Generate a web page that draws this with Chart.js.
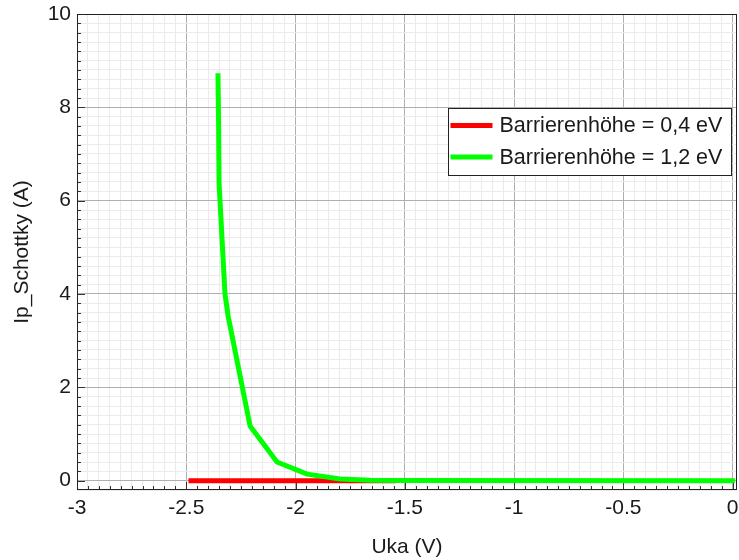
<!DOCTYPE html>
<html>
<head>
<meta charset="utf-8">
<script src="https://cdn.jsdelivr.net/npm/chart.js@4.4.1/dist/chart.umd.min.js"></script>
<style>
  html, body { margin: 0; padding: 0; background: #ffffff; }
  #wrap { width: 739px; height: 560px; }
</style>
</head>
<body>
<div id="wrap"><canvas id="c" width="739" height="560"></canvas></div>
<script>
// Axis ticks (major positions, labelled)
const xTickValues = [-3, -2.5, -2, -1.5, -1, -0.5, 0];
const yTickValues = [0, 2, 4, 6, 8, 10];

// Series
const seriesNames = ['Barrierenhöhe = 0,4 eV', 'Barrierenhöhe = 1,2 eV'];
const seriesColors = ['#ff0000', '#00ff00'];

// Barrier height 0.4 eV
const ukaLow = [-2.49, -2.0, -1.54];
const ipLow = [0, 0, 0];

// Barrier height 1.2 eV
const ukaHigh = [-2.355, -2.352, -2.350, -2.323, -2.309, -2.208, -2.085, -1.947, -1.796, -1.659, -1.522, 0.01];
const ipHigh = [8.73, 7.63, 6.38, 4.01, 3.54, 1.17, 0.40, 0.14, 0.035, 0.01, 0.003, 0];

const FONT = '"Liberation Sans", Arial, sans-serif';
const FONT_SIZE = 21;
const LEGEND_FONT_SIZE = 21.5;
const MINOR_PER_MAJOR = 10;

function isMajor(v, majors) {
  return majors.some(m => Math.abs(m - v) < 1e-6);
}

// Fill in minor ticks between (and beyond) the major ones
function withMinorTicks(scale, majors) {
  const step = (majors[1] - majors[0]) / MINOR_PER_MAJOR;
  let start = majors[0];
  while (start - step >= scale.min - 1e-9) start -= step;
  const ticks = [];
  for (let i = 0; ; i++) {
    const v = start + i * step;
    if (v > scale.max + 1e-9) break;
    ticks.push({ value: Math.round(v * 1e6) / 1e6 });
  }
  scale.ticks = ticks;
}

// Keep the plot area exactly where the layout padding puts it
function noOverhang(scale) {
  scale.paddingLeft = 0;
  scale.paddingRight = 0;
  scale.paddingTop = 0;
  scale.paddingBottom = 0;
}

function toPoints(xs, ys) {
  return xs.map((x, i) => ({ x: x, y: ys[i] }));
}

// Plot frame and inward tick marks
const framePlugin = {
  id: 'frame',
  beforeDatasetsDraw(chart) {
    const { ctx, chartArea: a, scales } = chart;
    ctx.save();
    ctx.strokeStyle = '#333333';
    ctx.lineWidth = 1;
    ctx.beginPath();
    scales.x.ticks.forEach(t => {
      const px = Math.round(scales.x.getPixelForValue(t.value)) + 0.5;
      if (px < a.left + 1 || px > a.right - 1) return;
      const len = isMajor(t.value, xTickValues) ? 8 : 4;
      ctx.moveTo(px, a.bottom);
      ctx.lineTo(px, a.bottom - len);
    });
    scales.y.ticks.forEach(t => {
      const py = Math.round(scales.y.getPixelForValue(t.value)) + 0.5;
      if (py < a.top + 1 || py > a.bottom - 1) return;
      const len = isMajor(t.value, yTickValues) ? 8 : 4;
      ctx.moveTo(a.left, py);
      ctx.lineTo(a.left + len, py);
    });
    ctx.stroke();
    ctx.strokeStyle = '#222222';
    ctx.strokeRect(Math.round(a.left) + 0.5, Math.round(a.top) + 0.5,
      Math.round(a.right - a.left) - 1, Math.round(a.bottom - a.top) - 1);
    ctx.restore();
  }
};

// Legend box inside the plot, top right
const insideLegendPlugin = {
  id: 'insideLegend',
  afterDatasetsDraw(chart) {
    const { ctx, chartArea: a } = chart;
    const boxW = 283, boxH = 67;
    const bx = a.right - 6 - boxW + 0.5;
    const by = a.top + 94 + 0.5;
    ctx.save();
    ctx.fillStyle = '#ffffff';
    ctx.fillRect(bx, by, boxW, boxH);
    ctx.strokeStyle = '#222222';
    ctx.lineWidth = 1;
    ctx.strokeRect(bx, by, boxW, boxH);
    ctx.font = LEGEND_FONT_SIZE + 'px ' + FONT;
    ctx.textBaseline = 'middle';
    ctx.textAlign = 'left';
    chart.data.datasets.forEach((ds, i) => {
      const cy = by + 17 + i * 31.5;
      ctx.strokeStyle = ds.borderColor;
      ctx.lineWidth = 5;
      ctx.beginPath();
      ctx.moveTo(bx + 2, cy);
      ctx.lineTo(bx + 44, cy);
      ctx.stroke();
      ctx.fillStyle = '#1a1a1a';
      ctx.fillText(ds.label, bx + 51, cy + 1);
    });
    ctx.restore();
  }
};

new Chart(document.getElementById('c'), {
  type: 'line',
  data: {
    datasets: [
      {
        label: seriesNames[0],
        data: toPoints(ukaLow, ipLow),
        borderColor: seriesColors[0],
        backgroundColor: seriesColors[0],
        borderWidth: 5,
        pointRadius: 0,
        tension: 0,
        fill: false,
        order: 2
      },
      {
        label: seriesNames[1],
        data: toPoints(ukaHigh, ipHigh),
        borderColor: seriesColors[1],
        backgroundColor: seriesColors[1],
        borderWidth: 5,
        pointRadius: 0,
        tension: 0,
        fill: false,
        order: 1
      }
    ]
  },
  options: {
    responsive: false,
    animation: false,
    devicePixelRatio: 1,
    layout: { padding: { left: 0, right: 2, top: 14, bottom: 0 } },
    plugins: {
      legend: { display: false },
      tooltip: { enabled: false }
    },
    scales: {
      x: {
        type: 'linear',
        min: -3,
        max: 0.02,
        afterBuildTicks: s => withMinorTicks(s, xTickValues),
        afterFit: s => { s.height = 70; noOverhang(s); },
        grid: {
          drawTicks: false,
          color: c => (c.tick && isMajor(c.tick.value, xTickValues)) ? '#b0b0b0' : '#ebebeb',
          lineWidth: 1
        },
        border: { display: false },
        ticks: {
          autoSkip: false,
          maxRotation: 0,
          minRotation: 0,
          padding: 6,
          color: '#1a1a1a',
          font: { family: FONT, size: FONT_SIZE },
          callback: v => isMajor(v, xTickValues) ? String(Math.round(v * 10) / 10) : ''
        },
        title: {
          display: true,
          text: 'Uka (V)',
          color: '#1a1a1a',
          font: { family: FONT, size: FONT_SIZE },
          padding: { top: 2, bottom: 0 }
        }
      },
      y: {
        type: 'linear',
        min: -0.2,
        max: 10,
        afterBuildTicks: s => withMinorTicks(s, yTickValues),
        afterFit: s => { s.width = 77; noOverhang(s); },
        grid: {
          drawTicks: false,
          color: c => (c.tick && isMajor(c.tick.value, yTickValues)) ? '#b0b0b0' : '#ebebeb',
          lineWidth: 1
        },
        border: { display: false },
        ticks: {
          autoSkip: false,
          padding: 6,
          color: '#1a1a1a',
          font: { family: FONT, size: FONT_SIZE },
          callback: v => isMajor(v, yTickValues) ? String(Math.round(v)) : ''
        },
        title: {
          display: true,
          text: 'Ip_Schottky (A)',
          color: '#1a1a1a',
          font: { family: FONT, size: FONT_SIZE },
          padding: { top: 10, bottom: 0 }
        }
      }
    }
  },
  plugins: [framePlugin, insideLegendPlugin]
});
</script>
</body>
</html>
